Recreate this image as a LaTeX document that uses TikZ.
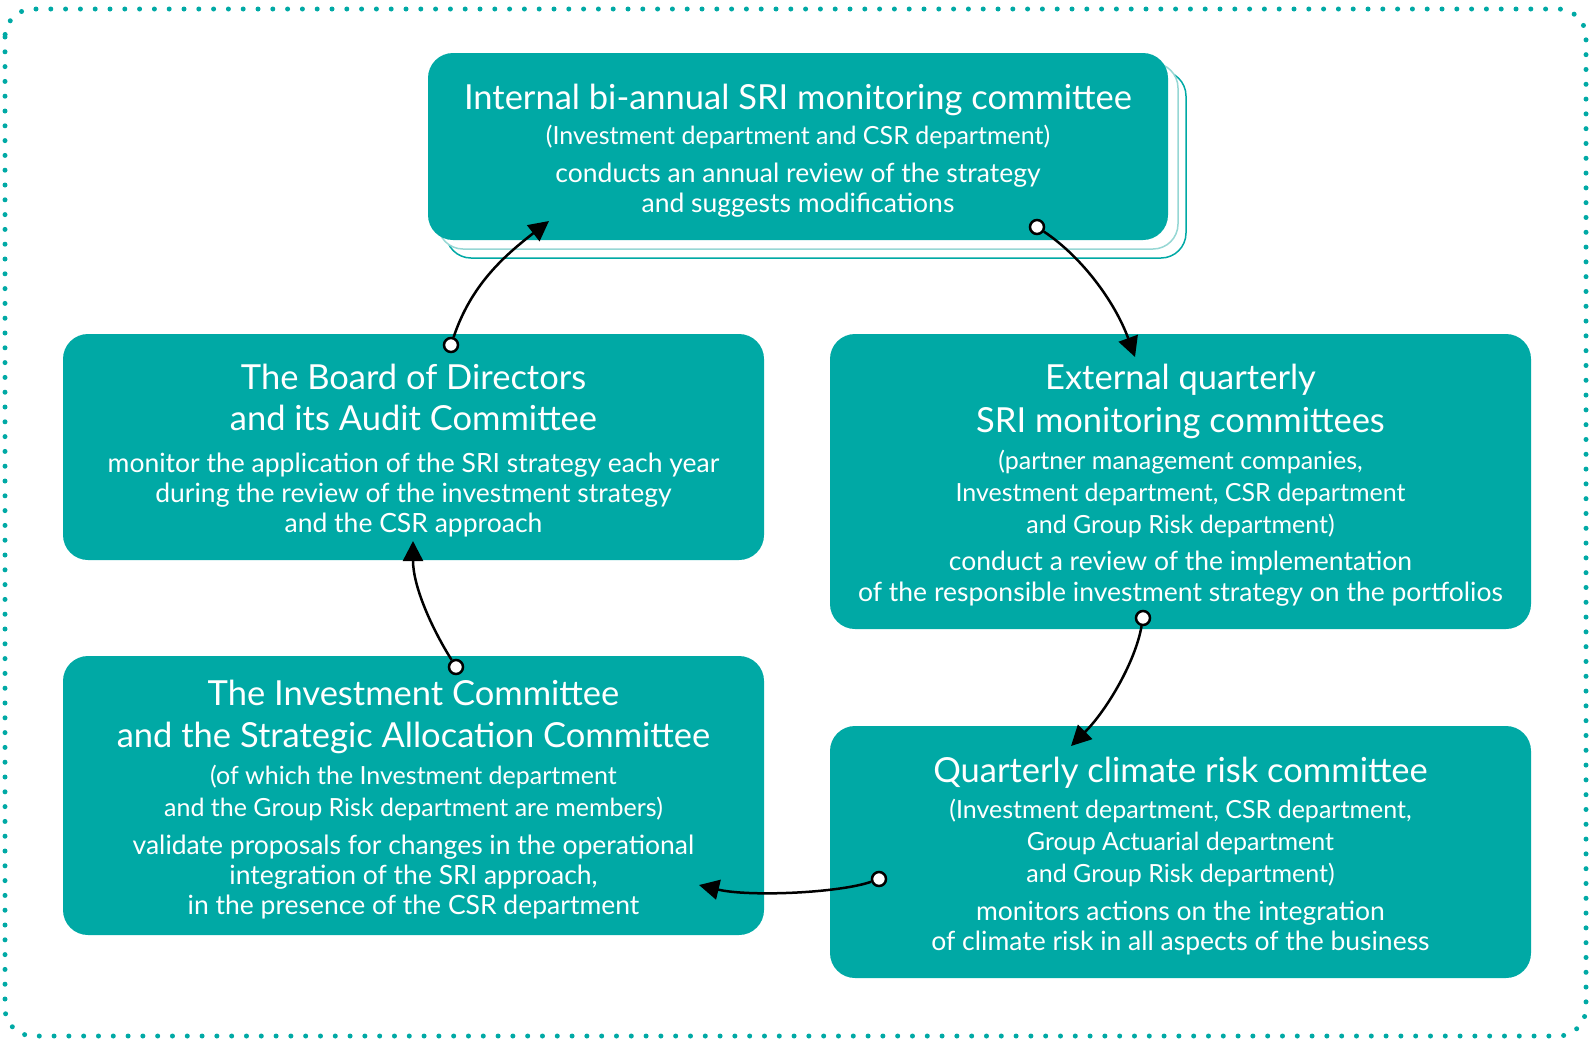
\documentclass[tikz,border=0pt]{standalone}
\usepackage{fontspec}
\setmainfont{Lato}
\usetikzlibrary{arrows.meta}
\definecolor{teal1}{RGB}{0,169,165}
\definecolor{teallight}{RGB}{150,215,212}
\newcommand\ttlf{\fontsize{34.5}{42}\selectfont}
\newcommand\prnf{\fontsize{25}{30}\selectfont}
\newcommand\bdyf{\fontsize{26.5}{30}\selectfont\lineskiplimit=-60pt\lineskip=0pt}
\tikzset{
  box/.style={fill=teal1, rounded corners=25pt, inner sep=0pt},
  btext/.style={text=white, align=center, inner sep=0pt, font=\bdyf, yshift=-4pt},
  conn/.style={line width=2.5pt, -{Triangle[length=20pt,width=20pt]}},
  dotc/.style={circle, draw=black, fill=white, line width=2.5pt, inner sep=0pt, minimum size=14pt},
}
\begin{document}
\begin{tikzpicture}[x=1pt,y=-1pt]
\useasboundingbox (0,0) rectangle (1592,1042);
% dotted frame
\draw[teal1, line width=5pt, line cap=round, dash pattern=on 0pt off 14.8pt, rounded corners=28pt] (5,9) rectangle (1586,1036);
% stacked outlines of top box
\draw[teal1, line width=1.5pt, fill=white, rounded corners=25pt] (446,71) rectangle (1186,258);
\draw[teallight, line width=1.5pt, fill=white, rounded corners=25pt] (438,63) rectangle (1178,249);
% boxes
\node[box, minimum width=740pt, minimum height=187pt] (top) at (798,146.5) {};
\node[box, minimum width=701pt, minimum height=226pt] (board) at (413.5,447) {};
\node[box, minimum width=701pt, minimum height=295pt] (ext) at (1180.5,481.5) {};
\node[box, minimum width=701pt, minimum height=279pt] (inv) at (413.5,795.5) {};
\node[box, minimum width=701pt, minimum height=252pt] (clim) at (1180.5,852) {};
% texts
\node[btext] (topt) at (top.center) {%
{\ttlf Internal bi-annual SRI monitoring committee}\\[5pt]
{\prnf (Investment department and CSR department)}\\[8pt]
conducts an annual review of the strategy\\
and suggests modifications};
\node[btext] (boardt) at (board.center) {%
{\ttlf The Board of Directors}\\[11pt]
{\ttlf and its Audit Committee}\\[12pt]
monitor the application of the SRI strategy each year\\
during the review of the investment strategy\\
and the CSR approach};
\node[btext] (extt) at (ext.center) {%
{\ttlf External quarterly}\\[13pt]
{\ttlf SRI monitoring committees}\\[7pt]
{\prnf (partner management companies,}\\[2pt]
{\prnf Investment department, CSR department}\\[2pt]
{\prnf and Group Risk department)}\\[7pt]
conduct a review of the implementation\\[1pt]
of the responsible investment strategy on the portfolios};
\node[btext] (invt) at (inv.center) {%
{\ttlf The Investment Committee}\\[12pt]
{\ttlf and the Strategic Allocation Committee}\\[7pt]
{\prnf (of which the Investment department}\\[2pt]
{\prnf and the Group Risk department are members)}\\[8pt]
validate proposals for changes in the operational\\
integration of the SRI approach,\\
in the presence of the CSR department};
\node[btext] (climt) at (clim.center) {%
{\ttlf Quarterly climate risk committee}\\[6pt]
{\prnf (Investment department, CSR department,}\\[2pt]
{\prnf Group Actuarial department}\\[2pt]
{\prnf and Group Risk department)}\\[8pt]
monitors actions on the integration\\
of climate risk in all aspects of the business};
% connector ends
\node[dotc] (s1) at (451,345) {};
\coordinate (e1) at (549,221);
\node[dotc] (s2) at (1037,227) {};
\coordinate (e2) at (1135,357);
\node[dotc] (s3) at (1143,618) {};
\coordinate (e3) at (1071,746);
\node[dotc] (s4) at (879,879) {};
\coordinate (e4) at (699,885);
\node[dotc] (s5) at (456,667) {};
\coordinate (e5) at (413,541);
\draw[conn] (s1) .. controls +(20,-60) and +(-45,35) .. (e1);
\draw[conn] (s2) .. controls +(45,30) and +(-20,-55) .. (e2);
\draw[conn] (s3) .. controls +(-8,45) and +(35,-35) .. (e3);
\draw[conn] (s4) .. controls +(-40,14) and +(50,12) .. (e4);
\draw[conn] (s5) .. controls +(-25,-40) and +(0,45) .. (e5);
\end{tikzpicture}
\end{document}
